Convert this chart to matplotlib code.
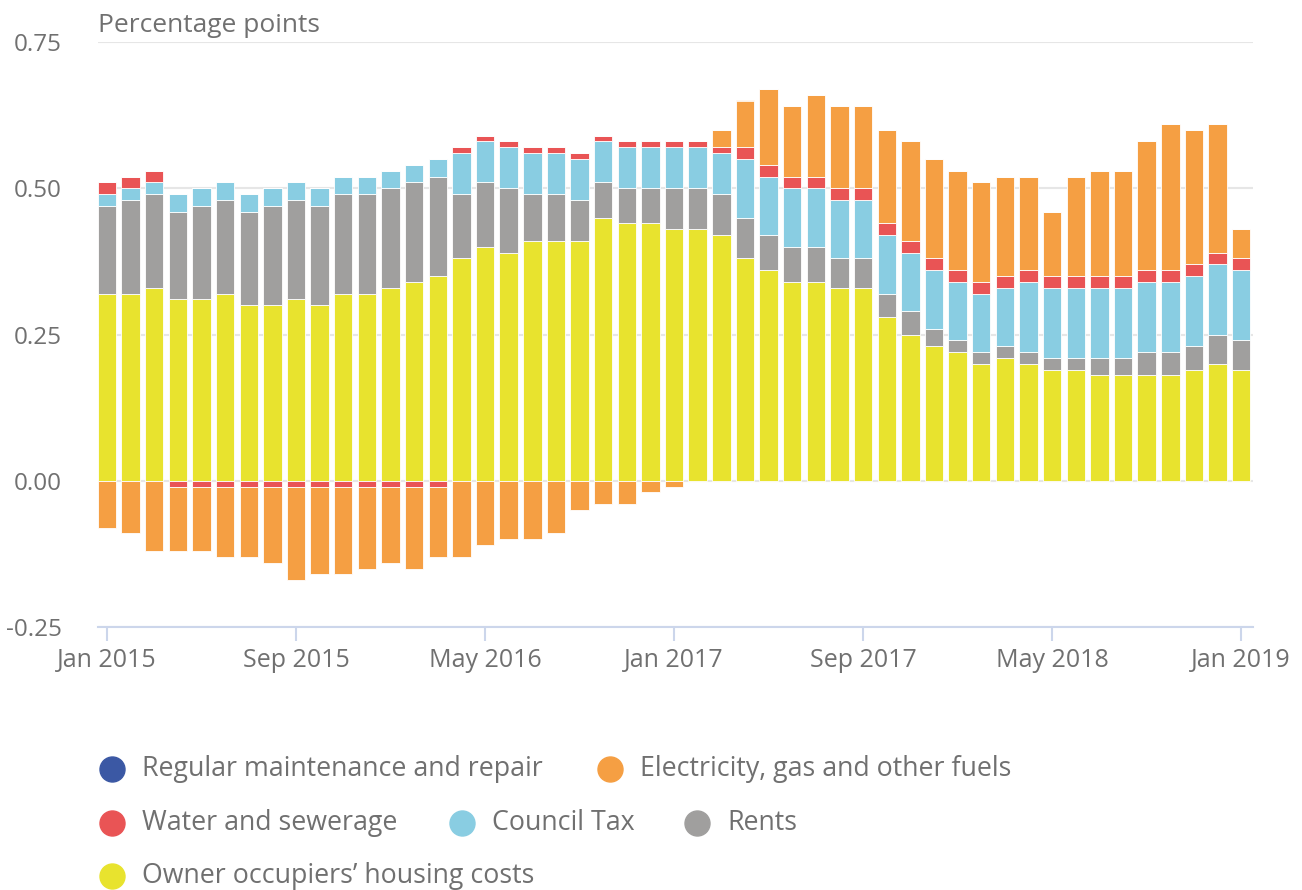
import numpy as np
import pandas as pd
import matplotlib
matplotlib.use("Agg")
import matplotlib.pyplot as plt
from matplotlib.lines import Line2D

plt.rcParams['font.family'] = ['Open Sans', 'DejaVu Sans']

# monthly contributions, Jan 2015 - Jan 2019 (percentage points)
months = pd.date_range("2015-01-01", "2019-01-01", freq="MS")

maintenance = [0.0] * 49
electricity = [-0.08, -0.09, -0.12, -0.11, -0.11, -0.12, -0.12, -0.13, -0.16, -0.15,
               -0.15, -0.14, -0.13, -0.14, -0.12, -0.13, -0.11, -0.10, -0.10, -0.09,
               -0.05, -0.04, -0.04, -0.02, -0.01, 0.00, 0.03, 0.08, 0.13, 0.12,
               0.14, 0.14, 0.14, 0.16, 0.17, 0.17, 0.17, 0.17, 0.17, 0.16,
               0.11, 0.17, 0.18, 0.18, 0.22, 0.25, 0.23, 0.22, 0.05]
water = [0.02, 0.02, 0.02] + [-0.01] * 12 + [0.01] * 12 + [0.02] * 22
council_tax = [0.02, 0.02, 0.02] + [0.03] * 12 + [0.07] * 12 + [0.10] * 12 + [0.12] * 10
rents = [0.15, 0.16, 0.16, 0.15, 0.16, 0.16, 0.16, 0.17, 0.17, 0.17,
         0.17, 0.17, 0.17, 0.17, 0.17, 0.11, 0.11, 0.11, 0.08, 0.08,
         0.07, 0.06, 0.06, 0.06, 0.07, 0.07, 0.07, 0.07, 0.06, 0.06,
         0.06, 0.05, 0.05, 0.04, 0.04, 0.03, 0.02, 0.02, 0.02, 0.02,
         0.02, 0.02, 0.03, 0.03, 0.04, 0.04, 0.04, 0.05, 0.05]
ooh = [0.32, 0.32, 0.33, 0.31, 0.31, 0.32, 0.30, 0.30, 0.31, 0.30,
       0.32, 0.32, 0.33, 0.34, 0.35, 0.38, 0.40, 0.39, 0.41, 0.41,
       0.41, 0.45, 0.44, 0.44, 0.43, 0.43, 0.42, 0.38, 0.36, 0.34,
       0.34, 0.33, 0.33, 0.28, 0.25, 0.23, 0.22, 0.20, 0.21, 0.20,
       0.19, 0.19, 0.18, 0.18, 0.18, 0.18, 0.19, 0.20, 0.19]

# stacking order from the zero line outward
series = [
    ("Owner occupiers\u2019 housing costs", ooh, "#e8e32e"),
    ("Rents", rents, "#a09f9e"),
    ("Council Tax", council_tax, "#89cde2"),
    ("Water and sewerage", water, "#e95455"),
    ("Electricity, gas and other fuels", electricity, "#f59f43"),
    ("Regular maintenance and repair", maintenance, "#3b58a4"),
]

text_col = "#707070"
fig = plt.figure(figsize=(13.02, 8.9), dpi=100)
ax = fig.add_axes([98 / 1302, 1 - 627 / 890, (1253 - 98) / 1302, (627 - 42) / 890])

x = np.arange(len(months))
pos_base = np.zeros(len(x))
neg_base = np.zeros(len(x))
for name, vals, col in series:
    v = np.array(vals)
    bottom = np.where(v >= 0, pos_base, neg_base)
    ax.bar(x, v, 0.78, bottom=bottom, color=col, edgecolor="white",
           linewidth=0.6, zorder=3)
    pos_base += np.where(v > 0, v, 0)
    neg_base += np.where(v < 0, v, 0)

ax.set_xlim(-0.38, 48.5)
ax.set_ylim(-0.25, 0.75)
ax.set_yticks([-0.25, 0, 0.25, 0.5, 0.75])
ax.set_yticklabels(["-0.25", "0.00", "0.25", "0.50", "0.75"])
ax.yaxis.grid(True, color="#e6e6e6", linewidth=1.5, zorder=0)
ax.set_axisbelow(True)

ticks = x[::8]
ax.set_xticks(ticks)
ax.set_xticklabels([months[i].strftime("%b %Y") for i in ticks])

for s in ["top", "right", "left"]:
    ax.spines[s].set_visible(False)
ax.spines["bottom"].set_color("#ccd6eb")
ax.spines["bottom"].set_linewidth(1.5)
ax.tick_params(axis="x", colors="#ccd6eb", length=10, width=1.5,
               labelcolor=text_col, labelsize=18, pad=5)
ax.tick_params(axis="y", length=0, labelcolor=text_col, labelsize=17.5, pad=26)

fig.text(98 / 1302, 1 - 26 / 890, "Percentage points", color=text_col,
         fontsize=19, va="center", ha="left")

# legend laid out as in the original, three rows
legend_items = [
    ("Regular maintenance and repair", "#3b58a4", 112, 769),
    ("Electricity, gas and other fuels", "#f59f43", 610, 769),
    ("Water and sewerage", "#e95455", 112, 823),
    ("Council Tax", "#89cde2", 462, 823),
    ("Rents", "#a09f9e", 697, 823),
    ("Owner occupiers\u2019 housing costs", "#e8e32e", 112, 876),
]
for label, col, lx, ly in legend_items:
    fig.add_artist(Line2D([lx / 1302], [1 - ly / 890], marker="o", markersize=18,
                          color=col, linestyle="none", transform=fig.transFigure))
    fig.text((lx + 30) / 1302, 1 - ly / 890, label, color=text_col, fontsize=19.3,
             va="center", ha="left")

fig.savefig("out.png", dpi=100)
